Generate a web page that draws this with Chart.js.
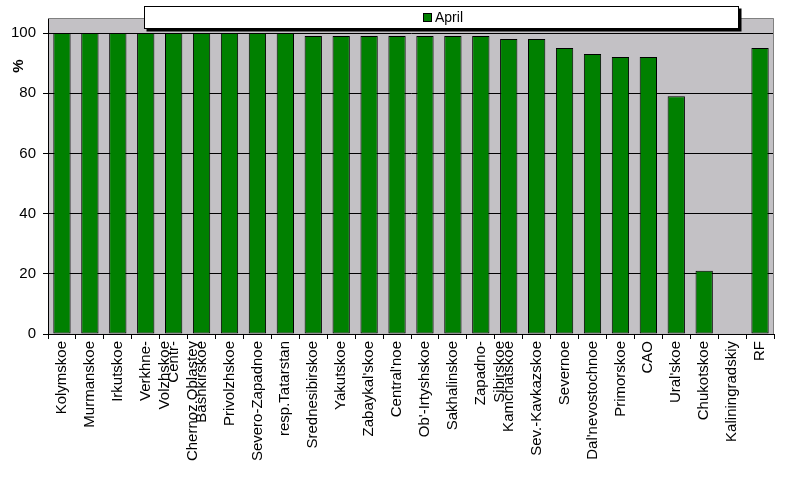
<!DOCTYPE html>
<html>
<head>
<meta charset="utf-8">
<script src="https://cdn.jsdelivr.net/npm/chart.js@4"></script>
<style>
html,body{margin:0;padding:0;background:#fff;}
#wrap{width:800px;height:479px;position:relative;}
</style>
</head>
<body>
<div id="wrap"><canvas id="c"></canvas></div>
<script>
const categories = [
  "Kolymskoe", "Murmanskoe", "Irkutskoe", ["Verkhne-", "Volzhskoe"], ["Centr-", "Chernoz.Oblastey"],
  "Bashkirskoe", "Privolzhskoe", "Severo-Zapadnoe", "resp.Tatarstan", "Srednesibirskoe",
  "Yakutskoe", "Zabaykal'skoe", "Central'noe", "Ob'-Irtyshskoe", "Sakhalinskoe",
  ["Zapadno-", "Sibirskoe"], "Kamchatskoe", "Sev.-Kavkazskoe", "Severnoe", "Dal'nevostochnoe",
  "Primorskoe", "CAO", "Ural'skoe", "Chukotskoe", "Kaliningradskiy", "RF"
];
const aprilValues = [
  100, 100, 100, 100, 100,
  100, 100, 100, 100, 99,
  99, 99, 99, 99, 99,
  99, 98, 98, 95, 93,
  92, 92, 79, 21, null, 95
];
const seriesLabel = "April";
const yTitle = "%";
const yMin = 0, yMax = 105, yStep = 20;

const FONT = "'Liberation Sans', Arial, sans-serif";

const decor = {
  id: 'decor',
  beforeDraw(chart) {
    const {ctx, chartArea: a} = chart;
    ctx.save();
    ctx.fillStyle = '#C3C1C5';
    ctx.fillRect(a.left, a.top, a.right - a.left, a.bottom - a.top);
    ctx.restore();
  },
  afterDraw(chart) {
    const {ctx, chartArea: a} = chart;
    ctx.save();
    ctx.strokeStyle = '#808080';
    ctx.lineWidth = 1;
    ctx.beginPath();
    ctx.moveTo(a.left, a.top + 0.5);
    ctx.lineTo(a.right - 0.5, a.top + 0.5);
    ctx.lineTo(a.right - 0.5, a.bottom);
    ctx.stroke();
    const bx = 144.5, by = 6.5, bw = 594, bh = 22;
    ctx.fillStyle = '#000';
    ctx.fillRect(bx + 2, by + 2, bw + 1, bh + 1);
    ctx.fillStyle = '#fff';
    ctx.fillRect(bx, by, bw, bh);
    ctx.strokeStyle = '#000';
    ctx.strokeRect(bx, by, bw, bh);
    const ds = chart.data.datasets[0];
    ctx.fillStyle = ds.backgroundColor;
    ctx.fillRect(423.5, 13.5, 8, 8);
    ctx.strokeRect(423.5, 13.5, 8, 8);
    ctx.fillStyle = '#000';
    ctx.font = '14px ' + FONT;
    ctx.textBaseline = 'alphabetic';
    ctx.textAlign = 'left';
    ctx.fillText(ds.label, 435, 22);
    ctx.translate(19, 66);
    ctx.rotate(-Math.PI / 2);
    ctx.font = 'bold 15px ' + FONT;
    ctx.textAlign = 'center';
    ctx.textBaseline = 'middle';
    ctx.fillText(yTitle, 0, 0);
    ctx.restore();
  }
};

new Chart(document.getElementById('c'), {
  type: 'bar',
  data: {
    labels: categories,
    datasets: [{
      label: seriesLabel,
      data: aprilValues,
      backgroundColor: '#008000',
      borderColor: '#000000',
      borderWidth: 1,
      borderSkipped: false,
      barPercentage: 0.62,
      categoryPercentage: 1.0
    }]
  },
  options: {
    responsive: true,
    maintainAspectRatio: false,
    animation: false,
    layout: { padding: { top: 18, right: 26, left: 0, bottom: 0 } },
    plugins: {
      legend: { display: false },
      tooltip: { enabled: false }
    },
    scales: {
      x: {
        offset: true,
        grid: { display: true, drawOnChartArea: false, offset: true, tickLength: 5, color: '#000', lineWidth: 1 },
        border: { color: '#000', width: 1 },
        ticks: {
          autoSkip: false, minRotation: 90, maxRotation: 90, padding: 2,
          color: '#000', font: { family: FONT, size: 15, lineHeight: 1.25 }
        },
        afterFit(scale) { scale.height = 145; }
      },
      y: {
        min: yMin, max: yMax,
        grid: { color: '#000', lineWidth: 1, tickLength: 5 },
        border: { color: '#000', width: 1 },
        ticks: {
          stepSize: yStep, includeBounds: false, padding: 7,
          color: '#000', font: { family: FONT, size: 15 }
        },
        afterFit(scale) { scale.width = 48; }
      }
    }
  },
  plugins: [decor]
});
</script>
</body>
</html>
